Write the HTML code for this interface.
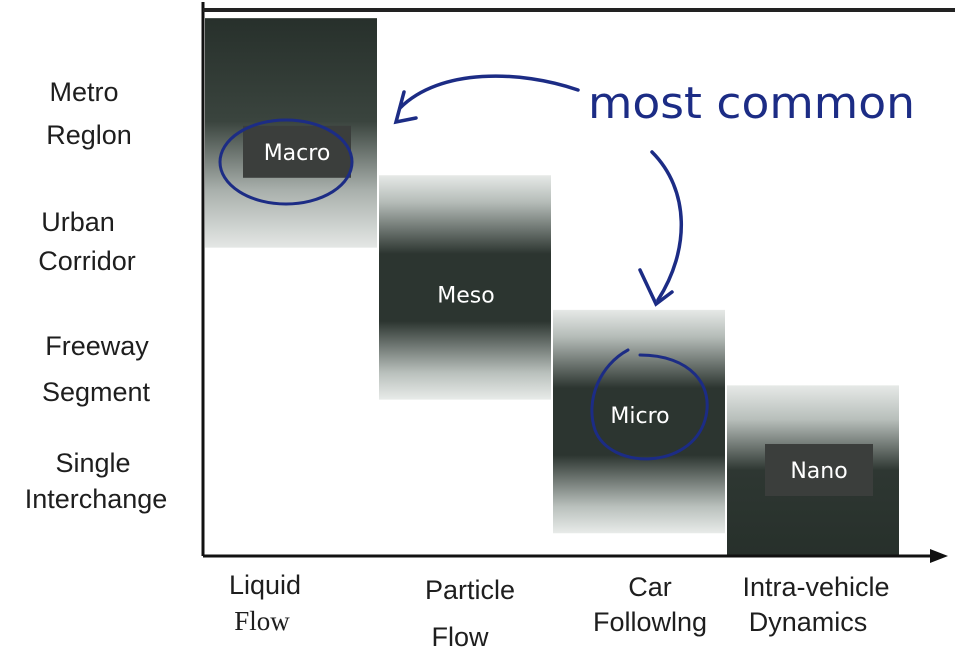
<!DOCTYPE html>
<html><head><meta charset="utf-8"><style>
html,body{margin:0;padding:0;background:#fff;}
svg{display:block;}
.lab{font-family:"Liberation Sans",sans-serif;font-size:27px;fill:#1e1e1e;text-anchor:middle;}
.blk{font-family:"DejaVu Sans","Liberation Sans",sans-serif;font-size:22px;fill:#fff;text-anchor:middle;}
</style></head><body>
<svg id="chart" width="969" height="658" viewBox="0 0 969 658">
<defs>
<linearGradient id="gMacro" x1="0" y1="0" x2="0" y2="1">
<stop offset="0" stop-color="#27302b"/><stop offset="0.45" stop-color="#3a443e"/><stop offset="0.75" stop-color="#a9b0ac"/><stop offset="1" stop-color="#e4e7e5"/></linearGradient>
<linearGradient id="gMid" x1="0" y1="0" x2="0" y2="1">
<stop offset="0" stop-color="#e6e9e7"/><stop offset="0.12" stop-color="#b5bcb8"/><stop offset="0.35" stop-color="#2c3530"/><stop offset="0.65" stop-color="#2c3530"/><stop offset="0.88" stop-color="#b9c0bc"/><stop offset="1" stop-color="#e8ebe9"/></linearGradient>
<linearGradient id="gNano" x1="0" y1="0" x2="0" y2="1">
<stop offset="0" stop-color="#e6e9e7"/><stop offset="0.2" stop-color="#b8bfbb"/><stop offset="0.5" stop-color="#2e3732"/><stop offset="1" stop-color="#27302b"/></linearGradient>
</defs>
<g id="blocks"></g>
<g>
<line x1="203" y1="2" x2="203" y2="556" stroke="#111" stroke-width="3"/>
<line x1="203" y1="10" x2="955" y2="10" stroke="#222" stroke-width="4"/>
<line x1="203" y1="556" x2="935" y2="556" stroke="#111" stroke-width="3"/>
<polygon points="930,549 948,556 930,563" fill="#111"/>
</g>
<g id="ylabels">
<text class="lab" x="84" y="101">Metro</text>
<text class="lab" x="89" y="144">Reglon</text>
<text class="lab" x="78" y="231">Urban</text>
<text class="lab" x="87" y="270">Corridor</text>
<text class="lab" x="97" y="355">Freeway</text>
<text class="lab" x="96" y="401">Segment</text>
<text class="lab" x="93" y="472">Single</text>
<text class="lab" x="96" y="508">Interchange</text>
</g>
<g>
<text class="lab" x="265" y="594">Liquid</text>
<text class="lab" x="262" y="630" style="font-family:'Liberation Serif',serif">Flow</text>
<text class="lab" x="470" y="599">Particle</text>
<text class="lab" x="460" y="646">Flow</text>
<text class="lab" x="650" y="596">Car</text>
<text class="lab" x="650" y="631">Followlng</text>
<text class="lab" x="816" y="596">Intra-vehicle</text>
<text class="lab" x="808" y="631">Dynamics</text>
</g>
<g stroke="#1c2c85" fill="none" stroke-width="3.5" stroke-linecap="round">
<text x="588" y="118" textLength="327" lengthAdjust="spacingAndGlyphs" style="font-family:'DejaVu Sans',sans-serif;font-size:44px;fill:#1c2c85;stroke:none">most common</text>
<path d="M578 90 C520 70 440 68 400 108"/>
<path d="M404 92 L396 122 L416 118"/>
<path d="M652 152 C690 190 690 250 658 300"/>
<path d="M640 270 L656 304 L672 292"/>
<ellipse cx="286" cy="162" rx="66" ry="42" stroke-width="3"/>
<path d="M628 350 C600 365 585 400 595 430 C610 470 690 470 705 420 C715 385 690 355 640 355" stroke-width="3"/>
</g>
<script>
const categories=["Macro","Meso","Micro","Nano"];
const colStart=[0,1,2,3];
const levelTop=[0.08,1.62,2.94,3.68];
const levelBottom=[2.33,3.82,5.13,5.4];
const labelLevel=[1.39,2.79,3.97,4.51];
const boxed=[true,false,false,true];
const grads=["gMacro","gMid","gMid","gNano"];
const x0=205,colW=174,yTop=10,unit=102;
const xs=i=>x0+i*colW, ys=v=>yTop+v*unit;
const g=document.getElementById('blocks');
const NS="http://www.w3.org/2000/svg";
categories.forEach((c,i)=>{
 const r=document.createElementNS(NS,'rect');
 r.setAttribute('x',xs(colStart[i]));r.setAttribute('y',ys(levelTop[i]));
 r.setAttribute('width',colW-2);r.setAttribute('height',Math.min(ys(levelBottom[i]),555)-ys(levelTop[i]));
 r.setAttribute('fill','url(#'+grads[i]+')');
 
 
 g.appendChild(r);
 const cx=xs(colStart[i])+colW/2+(boxed[i]?5:0), cy=ys(labelLevel[i]);
 if(boxed[i]){
  const b=document.createElementNS(NS,'rect');
  b.setAttribute('x',cx-54);b.setAttribute('y',cy-26);b.setAttribute('width',108);b.setAttribute('height',52);
  b.setAttribute('fill','#3b3e3c');
  
  
  g.appendChild(b);
 }
 const t=document.createElementNS(NS,'text');
 t.setAttribute('x',cx);t.setAttribute('y',cy+8);t.setAttribute('class','blk');
 t.textContent=c;
 
 
 g.appendChild(t);
});
</script>
</svg>
</body></html>
